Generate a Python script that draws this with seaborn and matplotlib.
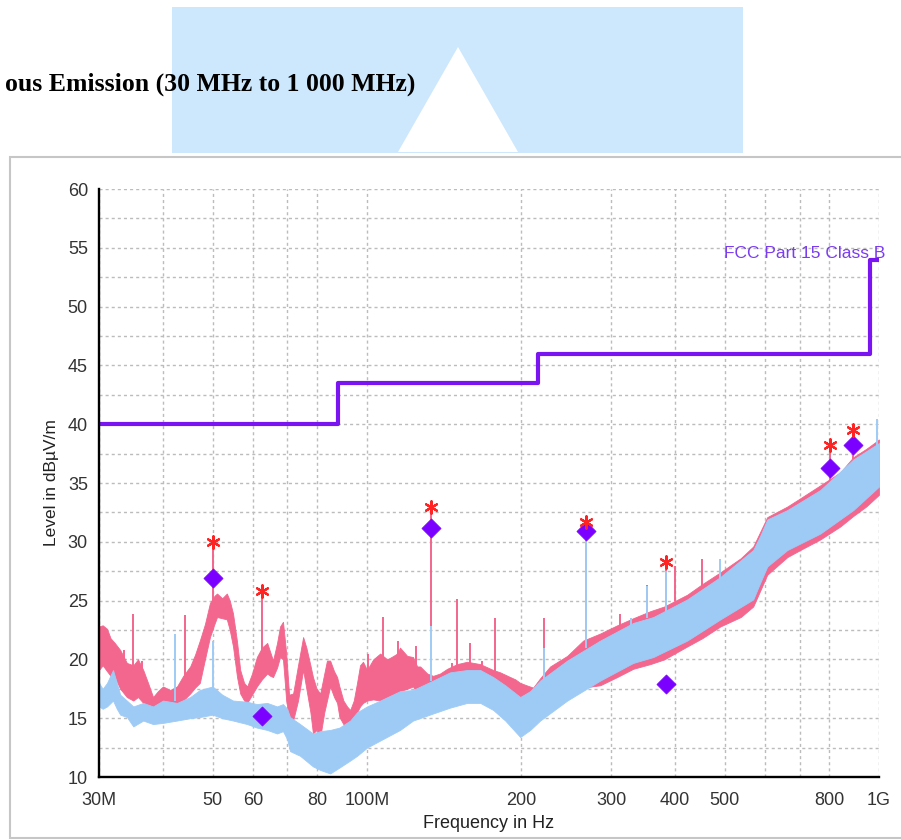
import numpy as np
import pandas as pd
import matplotlib
matplotlib.use("Agg")
import matplotlib.pyplot as plt
import seaborn as sns
from matplotlib.patches import Rectangle, Polygon
from matplotlib.ticker import FixedLocator, FixedFormatter, NullLocator

# ---------------- data ----------------
# Peak trace (pink): envelope of the noisy trace
peak_f = [30.0, 30.5, 31.1, 31.6, 32.2, 33.0, 34.0, 35.0, 35.75, 36.6, 37.4, 38.25, 39.1, 40.0,
          41.3, 42.6, 43.8, 45.2, 46.2, 47.2, 48.3, 49.4, 50.4, 51.0, 52.2, 53.3, 54.0, 54.8,
          55.8, 56.6, 57.6, 58.4, 59.7, 61.0, 62.4, 63.9, 64.8, 65.6, 66.8, 67.7, 68.6, 69.6,
          70.5, 71.8, 73.4, 75.1, 76.2, 77.6, 78.5, 79.8, 81.1, 82.6, 83.6, 84.8, 86.3, 87.5,
          88.4, 90.0, 91.5, 92.8, 94.3, 95.7, 97.0, 98.3, 100.1, 102.9, 106.2, 109.6, 112.7,
          114.6, 116.1, 119.9, 123.1, 125.4, 127.1, 131.2, 134.7, 139.0, 143.5, 150.1, 157.0,
          166.5, 176.5, 182.1, 190.5, 195.0, 199.3, 205.0, 211.2, 218.0, 228.0, 246.2, 264.5,
          285.5, 308.2, 331.2, 357.6, 380.8, 422.2, 451.7, 489.9, 537.0, 568.1, 605.1, 662.2,
          701.8, 767.9, 840.0, 891.0, 944.0, 1000.0]
peak_hi = [22.8, 22.9, 22.6, 21.8, 21.4, 20.8, 19.7, 19.5, 20.0, 19.1, 18.0, 16.8, 17.3, 17.7,
           17.4, 17.7, 18.6, 19.4, 20.4, 21.6, 23.0, 24.8, 25.4, 25.6, 25.2, 25.6, 25.0, 23.9,
           21.5, 19.1, 18.0, 17.7, 18.8, 20.2, 21.0, 21.4, 20.6, 19.9, 21.4, 22.8, 23.2, 20.5,
           17.0, 17.1, 19.5, 21.9, 21.0, 19.5, 18.5, 17.5, 17.1, 18.8, 19.9, 19.9, 19.0, 18.5,
           17.7, 16.5, 16.0, 15.7, 16.5, 18.0, 19.5, 19.8, 19.1, 20.0, 20.5, 20.0, 20.3,
           20.5, 21.0, 20.3, 20.2, 19.4, 19.4, 18.8, 18.6, 18.8, 19.2, 19.6, 19.8,
           19.6, 19.1, 18.9, 18.5, 18.3, 18.0, 17.8, 17.6, 18.4, 19.4, 20.3, 21.6,
           22.2, 22.9, 23.5, 24.1, 24.5, 25.5, 26.4, 27.4, 28.6, 29.6, 32.1, 33.0,
           33.7, 34.8, 35.9, 37.2, 37.9, 38.7]
peak_lo = [19.1, 19.5, 19.0, 18.6, 18.5, 17.5, 16.8, 16.5, 16.8, 16.3, 15.9, 15.7, 15.4, 15.1,
           15.6, 16.0, 16.5, 17.1, 17.6, 18.0, 20.0, 21.9, 23.0, 23.6, 23.5, 23.4, 22.5, 21.1,
           18.5, 17.1, 16.5, 16.3, 17.0, 17.7, 18.3, 18.8, 18.6, 18.5, 19.3, 20.2, 20.0, 16.5,
           15.0, 14.8, 16.5, 19.1, 17.5, 15.5, 13.7, 14.0, 13.4, 15.5, 16.5, 17.7, 16.8, 16.3,
           15.1, 14.5, 14.0, 14.0, 14.8, 15.5, 16.0, 16.3, 16.5, 16.6, 16.5, 16.8, 17.0,
           17.1, 17.3, 17.5, 17.7, 17.1, 17.4, 17.5, 17.5, 17.5, 17.7, 17.5, 17.8,
           17.5, 17.0, 16.6, 16.0, 15.8, 15.7, 15.8, 16.0, 16.0, 16.3, 16.9, 17.6,
           17.8, 18.5, 19.2, 19.6, 20.0, 21.1, 21.8, 22.8, 23.6, 24.5, 27.2, 28.7,
           29.3, 30.2, 31.3, 32.2, 33.0, 34.0]

# Average trace (light blue): envelope of the noisy trace
avg_f = [30.0, 30.5, 31.1, 31.95, 32.5, 33.0, 34.0, 35.0, 36.6, 38.25, 40.0, 42.6, 45.2, 47.2,
         50.0, 52.2, 54.8, 58.4, 61.0, 63.9, 66.8, 68.6, 69.9, 70.8, 74.1, 78.5, 81.1, 84.8,
         88.4, 92.8, 95.7, 100.1, 106.2, 116.1, 123.1, 134.7, 145.4, 157.0, 166.5, 176.5,
         186.3, 199.3, 208.4, 218.0, 246.2, 285.5, 331.2, 362.5, 422.2, 489.9, 568.1, 586.0,
         605.1, 662.2, 767.9, 891.0, 1000.0]
avg_hi = [18.0, 17.5, 18.0, 19.1, 18.0, 17.0, 16.5, 16.0, 16.3, 16.0, 16.5, 16.3, 16.8, 17.4,
          17.7, 17.0, 16.5, 16.4, 16.2, 16.3, 16.0, 16.2, 15.8, 15.1, 14.5, 13.7, 13.9, 14.0,
          14.2, 14.8, 15.5, 16.0, 16.5, 17.3, 17.4, 18.2, 18.9, 19.1, 19.1, 18.5,
          17.8, 16.8, 17.3, 18.2, 19.9, 21.6, 23.1, 23.6, 25.1, 27.0, 29.3, 30.5,
          31.9, 32.7, 34.4, 37.0, 38.4]
avg_lo = [16.0, 15.8, 16.0, 16.5, 15.8, 15.3, 15.1, 14.3, 14.8, 14.5, 14.6, 14.8, 15.0, 15.1,
          15.3, 15.0, 14.8, 14.5, 14.2, 14.0, 13.7, 13.9, 13.2, 12.2, 11.8, 10.9, 10.6, 10.3,
          10.8, 11.4, 11.8, 12.5, 13.1, 14.0, 14.8, 15.4, 15.9, 16.3, 16.3, 15.7,
          14.8, 13.4, 14.0, 14.8, 16.5, 18.2, 19.7, 20.2, 21.6, 23.4, 25.1, 26.5,
          27.9, 29.3, 30.7, 32.7, 34.7]

# Isolated spikes: frequency (MHz), base level, top level
peak_spike_f = [33.6, 35.0, 36.4, 44.2, 50.0, 62.4, 100.6, 107.6, 115.0, 124.8, 133.5, 146.5,
                150.1, 159.2, 168.0, 178.1, 221.9, 268.0, 312.0, 353.0, 383.0, 400.2, 451.7,
                804.0, 891.0]
peak_spike_lo = [18.0, 19.0, 17.5, 18.5, 25.0, 19.5, 18.5, 20.0, 19.5, 19.5, 22.8, 18.5,
                 19.0, 19.5, 19.0, 19.0, 18.5, 21.5, 22.0, 23.5, 24.0, 25.0, 26.0,
                 35.0, 37.0]
peak_spike_hi = [20.8, 23.9, 19.9, 23.8, 30.0, 25.8, 20.5, 23.6, 21.6, 21.1, 33.0, 19.7,
                 25.1, 21.4, 19.9, 23.5, 23.5, 31.7, 23.9, 26.3, 28.3, 27.9, 28.5,
                 38.2, 39.5]
avg_spike_f = [42.3, 50.0, 133.5, 221.9, 268.0, 328.0, 352.7, 383.0, 489.9, 992.0]
avg_spike_lo = [16.5, 17.5, 18.2, 18.0, 21.0, 22.5, 23.5, 24.0, 26.5, 37.5]
avg_spike_hi = [22.2, 21.6, 22.8, 21.0, 30.9, 23.5, 26.2, 27.5, 28.5, 40.4]

# Final measurement points
meas_f = [50.0, 62.4, 133.5, 268.0, 383.0, 804.0, 891.0]
peak_meas = [30.0, 25.8, 33.0, 31.7, 28.3, 38.2, 39.5]
qp_meas = [26.9, 15.2, 31.2, 30.9, 17.9, 36.3, 38.2]

# Limit line FCC Part 15 Class B
limit_f = [30, 88, 216, 960, 1000]
limit_v = [40, 43.5, 46, 54, 54]
limit_name = "FCC Part 15 Class B"

# Axis ticks
x_ticks = [30, 40, 50, 60, 70, 80, 100, 200, 300, 400, 500, 600, 700, 800, 1000]
x_labels = ['30M', '', '50', '60', '', '80', '100M', '200', '300', '400', '500', '', '', '800', '1G']
y_ticks = [10, 12.5, 15, 17.5, 20, 22.5, 25, 27.5, 30, 32.5, 35, 37.5, 40, 42.5, 45, 47.5,
           50, 52.5, 55, 57.5, 60]
y_labels = ['10', '', '15', '', '20', '', '25', '', '30', '', '35', '', '40', '', '45', '',
            '50', '', '55', '', '60']

title_text = "ous Emission (30 MHz to 1 000 MHz)"

# ---------------- styling ----------------
sns.set_theme(style="white")
plt.rcParams['font.family'] = ['Liberation Sans', 'DejaVu Sans']

PINK = '#f3668e'
BLUE = '#9ecbf6'
PURPLE = '#7a14f0'
RED = '#ff2424'

W, H = 901, 840
fig = plt.figure(figsize=(W / 100, H / 100), dpi=100)


def fx(px):
    return px / W


def fy(py):
    return 1 - py / H


# page decorations
fig.patches.append(Rectangle((fx(172), fy(153)), (743 - 172) / W, (153 - 7) / H,
                             transform=fig.transFigure, facecolor='#cde8fd',
                             edgecolor='none', zorder=-2))
fig.patches.append(Polygon([(fx(458), fy(47)), (fx(398), fy(152)), (fx(518), fy(152))],
                           closed=True, transform=fig.transFigure, facecolor='white',
                           edgecolor='none', zorder=-1))
fig.text(fx(415), fy(84), title_text, ha='right', va='center', fontsize=18.5,
         fontweight='bold', family=['Liberation Serif', 'DejaVu Serif'], color='black', zorder=3)
fig.patches.append(Rectangle((fx(10), fy(838)), (920 - 10) / W, (838 - 157) / H,
                             transform=fig.transFigure, facecolor='white',
                             edgecolor='#c6c6c6', lw=1.5, zorder=-1))

ax = fig.add_axes([fx(99), fy(777), (879 - 99) / W, (777 - 189) / H])
ax.set_facecolor('none')
ax.set_xscale('log')

# traces
ax.fill_between(peak_f, peak_lo, peak_hi, color=PINK, lw=0.6, edgecolor=PINK, zorder=2)
ax.vlines(peak_spike_f, peak_spike_lo, peak_spike_hi, color=PINK, lw=1.4, zorder=2)
ax.fill_between(avg_f, avg_lo, avg_hi, color=BLUE, lw=0.6, edgecolor=BLUE, zorder=3)
ax.vlines(avg_spike_f, avg_spike_lo, avg_spike_hi, color=BLUE, lw=1.4, zorder=3)

# limit line
lim_df = pd.DataFrame({'f': limit_f, 'v': limit_v})
sns.lineplot(data=lim_df, x='f', y='v', ax=ax, color=PURPLE, lw=3, drawstyle='steps-post',
             sort=False, estimator=None, zorder=4)
ax.text(1.008, 54.5, limit_name, transform=ax.get_yaxis_transform(), ha='right', va='center',
        fontsize=12.5, color='#7a3cf0', zorder=6)

# measurement markers
pk_df = pd.DataFrame({'f': meas_f, 'v': peak_meas})
qp_df = pd.DataFrame({'f': meas_f, 'v': qp_meas})
sns.scatterplot(data=qp_df, x='f', y='v', ax=ax, marker='D', s=95, color='#7b00ff',
                edgecolor='#7b00ff', linewidth=0.5, zorder=6)
sns.scatterplot(data=pk_df, x='f', y='v', ax=ax, marker=(6, 2, 0), s=80, color=RED,
                edgecolor=RED, linewidth=1.6, zorder=7)

# axes
ax.set_xlim(30, 1000)
ax.set_ylim(10, 60)
ax.xaxis.set_major_locator(FixedLocator(x_ticks))
ax.xaxis.set_major_formatter(FixedFormatter(x_labels))
ax.xaxis.set_minor_locator(NullLocator())
ax.yaxis.set_major_locator(FixedLocator(y_ticks))
ax.yaxis.set_major_formatter(FixedFormatter(y_labels))
ax.yaxis.set_minor_locator(NullLocator())

ax.grid(True, which='major', color='#bcbcbc', linestyle=(0, (2.2, 2.2)), linewidth=1.0)
ax.set_axisbelow(True)
for s in ['top', 'right']:
    ax.spines[s].set_visible(False)
for s in ['left', 'bottom']:
    ax.spines[s].set_color('black')
    ax.spines[s].set_linewidth(1.7)
    ax.spines[s].set_zorder(8)

ax.tick_params(axis='both', direction='inout', length=10, width=1.7, color='black',
               labelsize=13, labelcolor='#333333')
ax.tick_params(axis='x', pad=6)
ax.tick_params(axis='y', pad=3)

ax.set_xlabel('Frequency in Hz', fontsize=13, color='#222222', labelpad=4)
ax.set_ylabel('Level in dBµV/m', fontsize=12.5, color='#222222', labelpad=6)

fig.savefig('out.png', dpi=100)
